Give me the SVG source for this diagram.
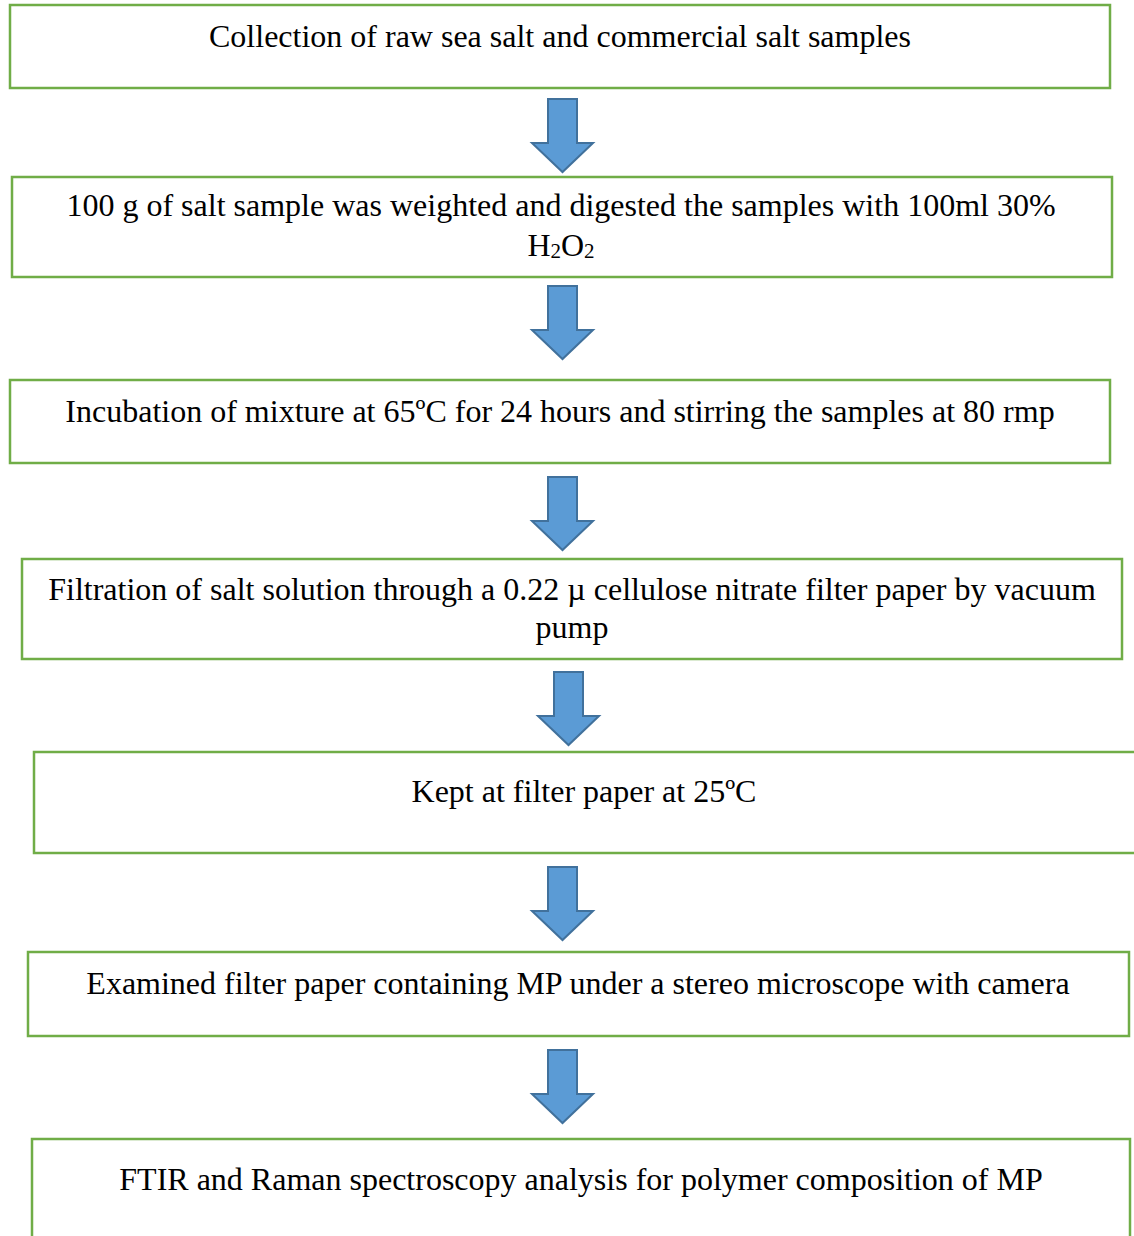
<svg xmlns="http://www.w3.org/2000/svg" width="1134" height="1236" viewBox="0 0 1134 1236">
<defs>
<style>
.box{fill:#fff;stroke:#70AD47;stroke-width:2.5}
.arr{fill:#5B9BD5;stroke:#41719C;stroke-width:2}
text{font-family:"Liberation Serif","Times New Roman",serif;font-size:32px;fill:#000;text-anchor:middle}
.sub{font-size:21px}
</style>
<path id="arrow" d="M0,0 H29 V44 H45 L14.5,73 L-16,44 H0 Z"/>
</defs>
<rect width="1134" height="1236" fill="#fff"/>
<g id="connectors">
<use href="#arrow" class="arr" x="548" y="99"/>
<use href="#arrow" class="arr" x="548" y="286"/>
<use href="#arrow" class="arr" x="548" y="477"/>
<use href="#arrow" class="arr" x="554" y="672"/>
<use href="#arrow" class="arr" x="548" y="867"/>
<use href="#arrow" class="arr" x="548" y="1050"/>
</g>
<g id="node1"><rect class="box" x="10" y="5" width="1100" height="83"/><text x="560" y="47">Collection of raw sea salt and commercial salt samples</text></g>
<g id="node2"><rect class="box" x="12" y="177" width="1100" height="100"/><text x="561" y="216">100 g of salt sample was weighted and digested the samples with 100ml 30%</text><text x="561" y="256">H<tspan class="sub" dy="2">2</tspan><tspan dy="-2">O</tspan><tspan class="sub" dy="2">2</tspan></text></g>
<g id="node3"><rect class="box" x="10" y="380" width="1100" height="83"/><text x="560" y="422">Incubation of mixture at 65ºC for 24 hours and stirring the samples at 80 rmp</text></g>
<g id="node4"><rect class="box" x="22" y="559" width="1100" height="100"/><text x="572" y="600">Filtration of salt solution through a 0.22 µ cellulose nitrate filter paper by vacuum</text><text x="572" y="638">pump</text></g>
<g id="node5"><rect class="box" x="34" y="752" width="1110" height="101"/><text x="584" y="802">Kept at filter paper at 25ºC</text></g>
<g id="node6"><rect class="box" x="28" y="952" width="1101" height="84"/><text x="578" y="994">Examined filter paper containing MP under a stereo microscope with camera</text></g>
<g id="node7"><rect class="box" x="32" y="1139" width="1098" height="120"/><text x="581" y="1190">FTIR and Raman spectroscopy analysis for polymer composition of MP</text></g>
</svg>
